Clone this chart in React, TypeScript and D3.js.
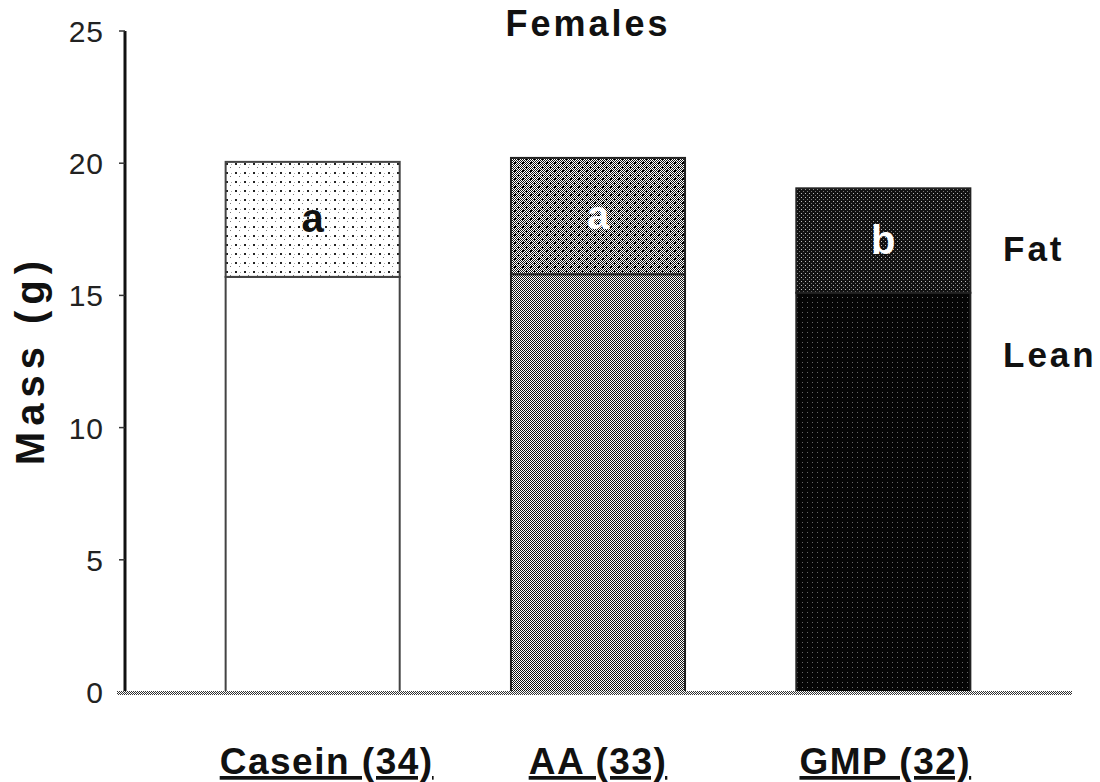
import React from "react";
import * as d3 from "d3";

// Body composition of female mice by diet (group size in parentheses)
const diets = ["Casein (34)", "AA (33)", "GMP (32)"];
const leanMass = [15.7, 15.8, 15.1];
const fatMass = [4.35, 4.4, 3.95];
const groupLetters = ["a", "a", "b"];
const yTicks = [0, 5, 10, 15, 20, 25];

const W = 1100;
const H = 782;
const FONT = "'Liberation Sans', Arial, sans-serif";

const x = d3
  .scaleBand<string>()
  .domain(diets)
  .range([170, 1026])
  .paddingInner(0.39)
  .paddingOuter(0.195);

const y = d3.scaleLinear().domain([0, 25]).range([692, 31]);

const leanFill = ["#ffffff", "url(#checker)", "url(#blackDots)"];
const fatFill = ["url(#stipple)", "url(#checkerDots)", "url(#darkDots)"];
const letterColor = ["#111", "#fff", "#fff"];
const strokeCol = ["#444", "#222", "#222"];
const labelShift = [14, 0, 2];

export default function App() {
  const bw = x.bandwidth();
  return (
    <svg width={W} height={H} style={{ display: "block", position: "absolute", left: 0, top: 0, background: "#fff" }}>
      <defs>
        <pattern id="checker" width="2" height="2" patternUnits="userSpaceOnUse">
          <rect width="2" height="2" fill="#fff" />
          <rect width="1" height="1" fill="#111" />
          <rect x="1" y="1" width="1" height="1" fill="#111" />
        </pattern>
        <pattern id="checkerDots" width="8" height="8" patternUnits="userSpaceOnUse">
          <rect width="8" height="8" fill="url(#checker)" />
          <rect x="2" y="2" width="2" height="2" fill="#000" />
          <rect x="6" y="6" width="1" height="2" fill="#000" />
        </pattern>
        <pattern id="stipple" width="9" height="9" patternUnits="userSpaceOnUse">
          <rect width="9" height="9" fill="#fff" />
          <rect x="1" y="1" width="2" height="2" fill="#222" />
          <rect x="5" y="5" width="1" height="1" fill="#777" />
          <rect x="6" y="2" width="1" height="1" fill="#aaa" />
        </pattern>
        <pattern id="blackDots" width="5" height="5" patternUnits="userSpaceOnUse">
          <rect width="5" height="5" fill="#050505" />
          <rect x="2" y="2" width="1" height="1" fill="#666" />
        </pattern>
        <pattern id="darkDots" width="4" height="4" patternUnits="userSpaceOnUse">
          <rect width="4" height="4" fill="#111" />
          <rect x="1" y="1" width="1" height="1" fill="#bbb" />
          <rect x="3" y="3" width="1" height="1" fill="#777" />
        </pattern>
        <pattern id="grayLine" width="2" height="2" patternUnits="userSpaceOnUse">
          <rect width="2" height="2" fill="#fff" />
          <rect width="1" height="1" fill="#333" />
          <rect x="1" y="1" width="1" height="1" fill="#333" />
        </pattern>
      </defs>

      {/* title */}
      <text x={588} y={36} textAnchor="middle" fontFamily={FONT} fontWeight="bold" fontSize={36} letterSpacing={3} fill="#111">
        Females
      </text>

      {/* stacked bars */}
      {diets.map((d, i) => {
        const x0 = x(d)!;
        const yLeanTop = y(leanMass[i]);
        const yTop = y(leanMass[i] + fatMass[i]);
        return (
          <g key={d}>
            <rect x={x0} y={yLeanTop} width={bw} height={y(0) - yLeanTop} fill={leanFill[i]} stroke={strokeCol[i]} strokeWidth={2} />
            <rect x={x0} y={yTop} width={bw} height={yLeanTop - yTop} fill={fatFill[i]} stroke={strokeCol[i]} strokeWidth={2} />
            <text
              x={x0 + bw / 2}
              y={(yTop + yLeanTop) / 2 + 13}
              textAnchor="middle"
              fontFamily={FONT}
              fontWeight="bold"
              fontSize={40}
              fill={letterColor[i]}
            >
              {groupLetters[i]}
            </text>
            <text
              x={x0 + bw / 2 + labelShift[i]}
              y={774}
              textAnchor="middle"
              fontFamily={FONT}
              fontWeight="bold"
              fontSize={37}
              letterSpacing={1.5}
              textDecoration="underline"
              fill="#111"
            >
              {d}
            </text>
          </g>
        );
      })}

      {/* y axis */}
      <line x1={125} x2={125} y1={y(25)} y2={y(0)} stroke="#111" strokeWidth={3} />
      {yTicks.map((t) => (
        <g key={t}>
          <line x1={119} x2={125} y1={y(t)} y2={y(t)} stroke="#333" strokeWidth={1.5} />
          <text x={104} y={y(t) + 11} textAnchor="end" fontFamily={FONT} fontSize={30} letterSpacing={1} fill="#222">
            {t}
          </text>
        </g>
      ))}
      <rect x={117} y={y(0) - 1} width={955} height={4} fill="url(#grayLine)" />

      <text
        transform={`translate(44, ${360}) rotate(-90)`}
        textAnchor="middle"
        fontFamily={FONT}
        fontWeight="bold"
        fontSize={40}
        letterSpacing={6}
        fill="#111"
      >
        Mass (g)
      </text>

      {/* legend labels */}
      <text x={1003} y={261} fontFamily={FONT} fontWeight="bold" fontSize={35} letterSpacing={3} fill="#111">
        Fat
      </text>
      <text x={1003} y={367} fontFamily={FONT} fontWeight="bold" fontSize={35} letterSpacing={3} fill="#111">
        Lean
      </text>
    </svg>
  );
}
